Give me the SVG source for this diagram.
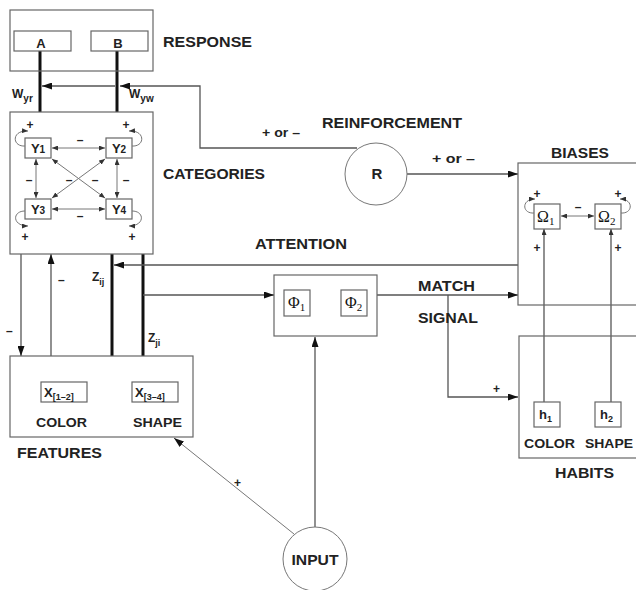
<svg xmlns="http://www.w3.org/2000/svg" width="636" height="590" viewBox="0 0 636 590">
<defs>
<style>
.box{fill:none;stroke:#666;stroke-width:1.2}
.thin{fill:none;stroke:#555;stroke-width:1.3}
.lt{fill:none;stroke:#777;stroke-width:1}
.thick{fill:none;stroke:#111;stroke-width:3}
text{font-family:"Liberation Sans",Arial,sans-serif;font-weight:bold;fill:#222}
.big{font-size:15px}
.mid{font-size:13px}
.sm{font-size:12px}
.sym{font-family:"Liberation Serif","Times New Roman",serif;font-weight:normal;font-size:16px;fill:#111}
</style>
<marker id="arr" markerUnits="userSpaceOnUse" markerWidth="10" markerHeight="7" refX="10" refY="3.5" orient="auto"><path d="M0,0 L10,3.5 L0,7 z" fill="#111"/></marker>
<marker id="sa" markerUnits="userSpaceOnUse" markerWidth="6" markerHeight="5" refX="6" refY="2.5" orient="auto-start-reverse"><path d="M0,0 L6,2.5 L0,5 z" fill="#333"/></marker>
</defs>
<rect width="636" height="590" fill="#fff"/>

<g id="connectors">
<line class="thick" x1="40" y1="51" x2="40" y2="112"/>
<line class="thick" x1="117" y1="51" x2="117" y2="112"/>
<line class="thick" x1="112" y1="254" x2="112" y2="356"/>
<line class="thick" x1="143" y1="254" x2="143" y2="356"/>
<path class="thin" d="M357,148 L200,148 L200,86 L120,86" marker-end="url(#arr)"/>
<path class="thin" d="M115,86 L42,86" marker-end="url(#arr)"/>
<path class="thin" d="M407,174 L518,174" marker-end="url(#arr)"/>
<path class="thin" d="M518,265 L114,265" marker-end="url(#arr)"/>
<path class="thin" d="M143,295 L274,295" marker-end="url(#arr)"/>
<path class="thin" d="M377,295 L518,295" marker-end="url(#arr)"/>
<path class="thin" d="M448,295 L448,397 L518,397" marker-end="url(#arr)"/>
<path class="thin" d="M315,527 L315,337" marker-end="url(#arr)"/>
<path class="lt" d="M294,534 L174,438" marker-end="url(#arr)"/>
<path class="thin" d="M21,254 L21,356" marker-end="url(#arr)"/>
<path class="thin" d="M51,356 L51,254" marker-end="url(#arr)"/>
<path class="thin" d="M544,402 L544,229" marker-end="url(#sa)"/>
<path class="thin" d="M611,402 L611,229" marker-end="url(#sa)"/>
<text class="sm" x="12" y="98">W<tspan font-size="10" dy="4">yr</tspan></text>
<text class="sm" x="129" y="98">W<tspan font-size="10" dy="4">yw</tspan></text>
<text class="sm" x="92" y="281">Z<tspan font-size="9" dy="4">ij</tspan></text>
<text class="sm" x="148" y="342">Z<tspan font-size="9" dy="4">ji</tspan></text>
<text class="sm" x="58" y="284">–</text>
<text class="sm" x="6" y="335">–</text>
<text class="sm" x="262" y="137" textLength="38" lengthAdjust="spacingAndGlyphs">+ or –</text>
<text class="sm" x="432" y="163" textLength="43" lengthAdjust="spacingAndGlyphs">+ or –</text>
<text class="big" x="322" y="128" textLength="140" lengthAdjust="spacingAndGlyphs">REINFORCEMENT</text>
<text class="big" x="255" y="249" textLength="92" lengthAdjust="spacingAndGlyphs">ATTENTION</text>
<text class="big" x="418" y="291" textLength="57" lengthAdjust="spacingAndGlyphs">MATCH</text>
<text class="big" x="418" y="323" textLength="60" lengthAdjust="spacingAndGlyphs">SIGNAL</text>
<text class="sm" x="493" y="393">+</text>
<text class="sm" x="234" y="487">+</text>
</g>

<g id="response">
<rect class="box" x="10" y="10" width="143" height="61"/>
<rect class="box" x="14" y="31" width="57" height="20"/>
<rect class="box" x="91" y="31" width="57" height="20"/>
<text class="mid" x="41" y="48" text-anchor="middle">A</text>
<text class="mid" x="118" y="48" text-anchor="middle">B</text>
<text class="big" x="163" y="47" textLength="89" lengthAdjust="spacingAndGlyphs">RESPONSE</text>
</g>

<g id="categories">
<rect class="box" x="10" y="112" width="143" height="142"/>
<rect class="box" x="25" y="138" width="26" height="20"/>
<rect class="box" x="106" y="138" width="26" height="20"/>
<rect class="box" x="25" y="199" width="26" height="20"/>
<rect class="box" x="106" y="199" width="26" height="20"/>
<text class="mid" x="38" y="153" text-anchor="middle">Y<tspan font-size="10">1</tspan></text>
<text class="mid" x="119" y="153" text-anchor="middle">Y<tspan font-size="10">2</tspan></text>
<text class="mid" x="38" y="214" text-anchor="middle">Y<tspan font-size="10">3</tspan></text>
<text class="mid" x="119" y="214" text-anchor="middle">Y<tspan font-size="10">4</tspan></text>
<line class="lt" x1="52" y1="148" x2="105" y2="148" marker-start="url(#sa)" marker-end="url(#sa)"/>
<line class="lt" x1="52" y1="209" x2="105" y2="209" marker-start="url(#sa)" marker-end="url(#sa)"/>
<line class="lt" x1="36" y1="159" x2="36" y2="198" marker-start="url(#sa)" marker-end="url(#sa)"/>
<line class="lt" x1="117" y1="159" x2="117" y2="198" marker-start="url(#sa)" marker-end="url(#sa)"/>
<line class="lt" x1="52" y1="159" x2="105" y2="198" marker-start="url(#sa)" marker-end="url(#sa)"/>
<line class="lt" x1="105" y1="159" x2="52" y2="198" marker-start="url(#sa)" marker-end="url(#sa)"/>
<path class="lt" d="M25,146 C12,147 11,130 28,131" marker-end="url(#sa)"/>
<path class="lt" d="M132,146 C145,147 146,130 129,131" marker-end="url(#sa)"/>
<path class="lt" d="M25,211 C12,211 12,226 28,226" marker-end="url(#sa)"/>
<path class="lt" d="M132,211 C145,211 145,226 129,226" marker-end="url(#sa)"/>
<text class="sm" x="30" y="129" text-anchor="middle">+</text>
<text class="sm" x="126" y="129" text-anchor="middle">+</text>
<text class="sm" x="25" y="241" text-anchor="middle">+</text>
<text class="sm" x="132" y="241" text-anchor="middle">+</text>
<text class="sm" x="80" y="144" text-anchor="middle">–</text>
<text class="sm" x="80" y="220" text-anchor="middle">–</text>
<text class="sm" x="29" y="184" text-anchor="middle">–</text>
<text class="sm" x="69" y="184" text-anchor="middle">–</text>
<text class="sm" x="95" y="184" text-anchor="middle">–</text>
<text class="sm" x="126" y="184" text-anchor="middle">–</text>
<text class="big" x="163" y="179" textLength="102" lengthAdjust="spacingAndGlyphs">CATEGORIES</text>
</g>

<g id="features">
<rect class="box" x="10" y="356" width="183" height="81"/>
<rect class="box" x="41" y="382" width="46" height="20"/>
<rect class="box" x="132" y="382" width="46" height="20"/>
<text class="mid" x="44" y="397">X<tspan font-size="9" dy="3">[1–2]</tspan></text>
<text class="mid" x="135" y="397">X<tspan font-size="9" dy="3">[3–4]</tspan></text>
<text class="sm" x="36" y="427" textLength="51" lengthAdjust="spacingAndGlyphs">COLOR</text>
<text class="sm" x="133" y="427" textLength="49" lengthAdjust="spacingAndGlyphs">SHAPE</text>
<text class="big" x="17" y="458" textLength="85" lengthAdjust="spacingAndGlyphs">FEATURES</text>
</g>

<g id="phi">
<rect class="box" x="274" y="275" width="103" height="61"/>
<rect class="box" x="284" y="290" width="26" height="26"/>
<rect class="box" x="341" y="290" width="26" height="26"/>
<text class="sym" x="288" y="308">Φ<tspan font-size="11" dy="3">1</tspan></text>
<text class="sym" x="345" y="308">Φ<tspan font-size="11" dy="3">2</tspan></text>
</g>

<g id="reinforcement">
<circle cx="376" cy="174" r="31" fill="#fff" stroke="#777" stroke-width="1"/>
<text class="big" x="377" y="179" text-anchor="middle">R</text>
</g>

<g id="input">
<circle cx="315" cy="559" r="32" fill="#fff" stroke="#777" stroke-width="1"/>
<text class="big" x="315" y="565" text-anchor="middle" textLength="47" lengthAdjust="spacingAndGlyphs">INPUT</text>
</g>

<g id="biases">
<rect class="box" x="518" y="163" width="140" height="142"/>
<rect class="box" x="534" y="204" width="26" height="25"/>
<rect class="box" x="595" y="204" width="26" height="25"/>
<text class="sym" x="537" y="222">Ω<tspan font-size="11" dy="3">1</tspan></text>
<text class="sym" x="598" y="222">Ω<tspan font-size="11" dy="3">2</tspan></text>
<line class="lt" x1="561" y1="216" x2="594" y2="216" marker-start="url(#sa)" marker-end="url(#sa)"/>
<path class="lt" d="M534,213 C522,214 521,199 535,199" marker-end="url(#sa)"/>
<path class="lt" d="M621,213 C633,214 634,199 620,199" marker-end="url(#sa)"/>
<text class="sm" x="578" y="211" text-anchor="middle">–</text>
<text class="sm" x="537" y="198" text-anchor="middle">+</text>
<text class="sm" x="618" y="198" text-anchor="middle">+</text>
<text class="sm" x="537" y="252" text-anchor="middle">+</text>
<text class="sm" x="618" y="252" text-anchor="middle">+</text>
<text class="big" x="551" y="158" textLength="58" lengthAdjust="spacingAndGlyphs">BIASES</text>
</g>

<g id="habits">
<rect class="box" x="519" y="336" width="140" height="122"/>
<rect class="box" x="534" y="402" width="26" height="25"/>
<rect class="box" x="595" y="402" width="26" height="25"/>
<text class="mid" x="539" y="419">h<tspan font-size="9" dy="3">1</tspan></text>
<text class="mid" x="600" y="419">h<tspan font-size="9" dy="3">2</tspan></text>
<text class="sm" x="524" y="448" textLength="51" lengthAdjust="spacingAndGlyphs">COLOR</text>
<text class="sm" x="585" y="448" textLength="48" lengthAdjust="spacingAndGlyphs">SHAPE</text>
<text class="big" x="555" y="478" textLength="59" lengthAdjust="spacingAndGlyphs">HABITS</text>
</g>
</svg>
